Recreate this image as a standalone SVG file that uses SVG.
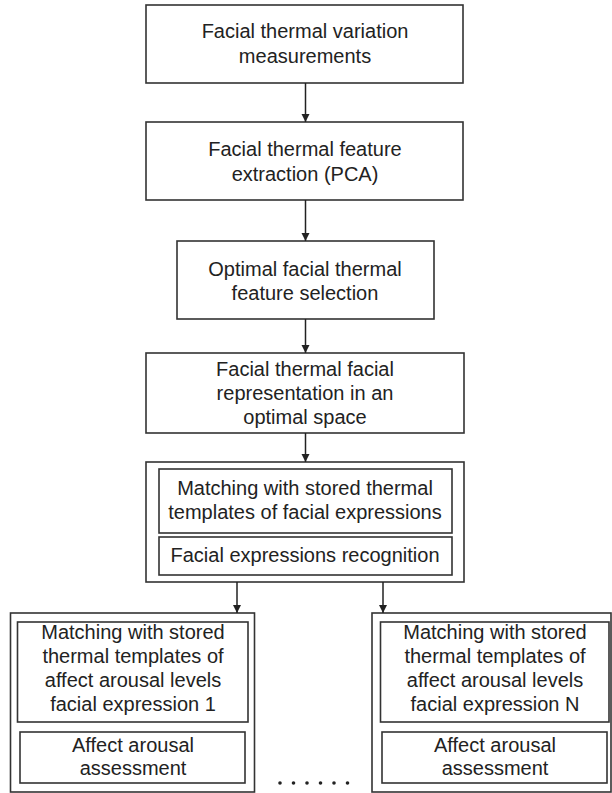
<svg xmlns="http://www.w3.org/2000/svg" width="612" height="793" viewBox="0 0 612 793">
<defs>
<marker id="ah" viewBox="0 0 8 10" refX="8" refY="5" markerWidth="8" markerHeight="10" markerUnits="userSpaceOnUse" orient="auto">
<path d="M0,1 L8,5 L0,9 Z" fill="#222"/>
</marker>
<style>
rect{fill:none;stroke:#333;stroke-width:1.6}
text{font-family:"Liberation Sans",Arial,sans-serif;font-size:20px;fill:#222;text-anchor:middle}
.c line{stroke:#222;stroke-width:1.5;marker-end:url(#ah)}
</style>
</defs>
<rect x="0" y="0" width="612" height="793" fill="#fff" style="fill:#fff;stroke:none"/>
<g id="n1"><rect x="146" y="5" width="317" height="78"/>
<text x="305" y="38">Facial thermal variation</text><text x="305" y="63">measurements</text></g>
<g id="n2"><rect x="146" y="122" width="317" height="78"/>
<text x="305" y="156">Facial thermal feature</text><text x="305" y="181">extraction (PCA)</text></g>
<g id="n3"><rect x="177" y="241" width="257" height="78"/>
<text x="305" y="276">Optimal facial thermal</text><text x="305" y="300">feature selection</text></g>
<g id="n4"><rect x="146" y="353" width="318" height="80"/>
<text x="305" y="376">Facial thermal facial</text><text x="305" y="400">representation in an</text><text x="305" y="424">optimal space</text></g>
<g id="n5"><rect x="146" y="462" width="318" height="120"/>
<rect x="159" y="469" width="293" height="64"/>
<text x="305" y="495">Matching with stored thermal</text><text x="305" y="519">templates of facial expressions</text>
<rect x="159" y="537" width="293" height="38"/>
<text x="305" y="562">Facial expressions recognition</text></g>
<g id="n6"><rect x="10.5" y="613" width="244" height="179"/>
<rect x="17.5" y="622" width="230.5" height="100"/>
<text x="133" y="639">Matching with stored</text><text x="133" y="663">thermal templates of</text><text x="133" y="687">affect arousal levels</text><text x="133" y="711">facial expression 1</text>
<rect x="20" y="732" width="225" height="51"/>
<text x="133" y="752">Affect arousal</text><text x="133" y="775">assessment</text></g>
<g id="n7"><rect x="372" y="613" width="239" height="179"/>
<rect x="380.5" y="622" width="228.5" height="100"/>
<text x="495" y="639">Matching with stored</text><text x="495" y="663">thermal templates of</text><text x="495" y="687">affect arousal levels</text><text x="495" y="711">facial expression N</text>
<rect x="382" y="732" width="225" height="51"/>
<text x="495" y="752">Affect arousal</text><text x="495" y="775">assessment</text></g>
<g id="dots" fill="#222">
<circle cx="280" cy="783" r="1.8"/><circle cx="293.5" cy="783" r="1.8"/><circle cx="307" cy="783" r="1.8"/><circle cx="320.5" cy="783" r="1.8"/><circle cx="334" cy="783" r="1.8"/><circle cx="347.5" cy="783" r="1.8"/>
</g>
<g id="connectors" class="c">
<line x1="305.5" y1="83" x2="305.5" y2="122"/>
<line x1="305.5" y1="200" x2="305.5" y2="241"/>
<line x1="305.5" y1="319" x2="305.5" y2="353"/>
<line x1="305.5" y1="433" x2="305.5" y2="462"/>
<line x1="237" y1="582" x2="237" y2="613"/>
<line x1="383" y1="582" x2="383" y2="613"/>
</g>
</svg>
